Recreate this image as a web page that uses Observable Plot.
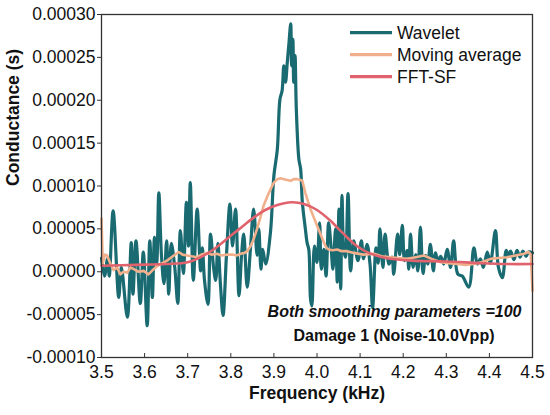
<!DOCTYPE html>
<html>
<head>
<meta charset="utf-8">
<script src="https://cdn.jsdelivr.net/npm/d3@7"></script>
<script src="https://cdn.jsdelivr.net/npm/@observablehq/plot@0.6"></script>
<style>
  html, body { margin: 0; padding: 0; background: #fff; }
  #chart { width: 550px; height: 415px; }
</style>
</head>
<body>
<div id="chart"></div>
<script>
// ---- data ----
const xTicks = [3.5, 3.6, 3.7, 3.8, 3.9, 4.0, 4.1, 4.2, 4.3, 4.4, 4.5];
const yTicks = [-0.0001, -0.00005, 0, 0.00005, 0.0001, 0.00015, 0.0002, 0.00025, 0.0003];
const seriesNames = ["Wavelet", "Moving average", "FFT-SF"];
const seriesColors = ["#1a6a72", "#f1b08b", "#e0626d"];

const waveletFreq = [3.500,3.507,3.514,3.518,3.527,3.540,3.546,3.560,3.569,3.573,3.580,3.590,3.597,3.606,3.612,3.618,3.623,3.628,3.633,3.639,3.645,3.651,3.656,3.662,3.670,3.677,3.683,3.690,3.697,3.702,3.706,3.713,3.722,3.730,3.734,3.739,3.747,3.753,3.760,3.765,3.770,3.776,3.782,3.790,3.798,3.804,3.811,3.819,3.825,3.830,3.838,3.846,3.853,3.861,3.865,3.870,3.874,3.881,3.892,3.900,3.908,3.914,3.919,3.923,3.927,3.931,3.935,3.939,3.941,3.944,3.946,3.949,3.952,3.958,3.962,3.966,3.973,3.977,3.981,3.985,3.988,3.994,4.000,4.006,4.010,4.016,4.021,4.027,4.033,4.037,4.043,4.047,4.051,4.055,4.058,4.062,4.066,4.072,4.078,4.085,4.095,4.103,4.108,4.116,4.123,4.129,4.137,4.142,4.146,4.153,4.158,4.167,4.174,4.178,4.187,4.192,4.198,4.203,4.209,4.213,4.217,4.223,4.229,4.234,4.240,4.246,4.252,4.257,4.263,4.270,4.275,4.280,4.287,4.294,4.302,4.310,4.317,4.327,4.337,4.352,4.364,4.372,4.379,4.386,4.395,4.402,4.414,4.421,4.430,4.439,4.444,4.449,4.457,4.464,4.471,4.478,4.485,4.491,4.500];
const waveletVal = [1.6e-5,-0.5e-5,1.5e-5,-0.5e-5,7.1e-5,-3.0e-5,0.5e-5,-5.3e-5,3.4e-5,-2.6e-5,3.6e-5,-3.7e-5,2.3e-5,-6.3e-5,3.6e-5,-3.0e-5,4.0e-5,1.0e-5,9.2e-5,2.0e-5,-1.4e-5,3.6e-5,-2.6e-5,3.3e-5,0.5e-5,-3.7e-5,4.8e-5,-0.2e-5,8.1e-5,3.0e-5,10.4e-5,-1.0e-5,7.3e-5,0.1e-5,2.8e-5,-1.0e-5,-3.8e-5,4.4e-5,0.5e-5,-1.0e-5,3.3e-5,-1.5e-5,-5.1e-5,2.0e-5,7.9e-5,3.0e-5,7.3e-5,-2.8e-5,2.0e-5,4.4e-5,-1.8e-5,3.0e-5,7.3e-5,1.9e-5,5.0e-5,0.3e-5,2.6e-5,0.9e-5,4.6e-5,11.2e-5,14.3e-5,20.1e-5,21.1e-5,24.0e-5,22.1e-5,24.4e-5,26.7e-5,28.9e-5,24.0e-5,27.1e-5,22.1e-5,25.2e-5,19.0e-5,13.1e-5,12.0e-5,8.1e-5,5.0e-5,3.4e-5,2.6e-5,-3.2e-5,-4.0e-5,3.0e-5,1.1e-5,5.7e-5,0.3e-5,2.6e-5,-0.5e-5,5.7e-5,2.6e-5,0.3e-5,5.0e-5,-1.2e-5,7.3e-5,-2.0e-5,8.9e-5,2.6e-5,1.7e-5,9.1e-5,0.1e-5,3.6e-5,1.3e-5,3.6e-5,1.5e-5,3.2e-5,0.9e-5,-4.2e-5,2.8e-5,1.0e-5,5.0e-5,0.5e-5,4.4e-5,0.9e-5,1.7e-5,-0.3e-5,4.4e-5,2.0e-5,5.4e-5,1.3e-5,2.5e-5,0.3e-5,4.4e-5,0.5e-5,2.0e-5,0.1e-5,5.2e-5,-0.2e-5,1.9e-5,0.9e-5,3.2e-5,0.1e-5,2.2e-5,1.3e-5,1.8e-5,0.9e-5,2.6e-5,0.5e-5,3.6e-5,-0.3e-5,-0.5e-5,-1.8e-5,2.8e-5,0.9e-5,1.5e-5,0.5e-5,2.3e-5,1.0e-5,4.8e-5,0.5e-5,-0.7e-5,2.5e-5,1.8e-5,2.4e-5,1.4e-5,2.5e-5,1.7e-5,2.4e-5,1.8e-5,2.3e-5,2.2e-5];

const movingFreq = [3.500,3.503,3.508,3.513,3.521,3.528,3.536,3.544,3.551,3.560,3.567,3.575,3.586,3.598,3.609,3.621,3.630,3.637,3.652,3.660,3.668,3.679,3.688,3.699,3.709,3.722,3.732,3.745,3.755,3.768,3.778,3.792,3.804,3.813,3.823,3.832,3.838,3.846,3.853,3.861,3.869,3.876,3.884,3.892,3.900,3.908,3.915,3.923,3.931,3.939,3.946,3.954,3.962,3.966,3.969,3.973,3.979,3.985,3.992,4.000,4.008,4.016,4.022,4.027,4.036,4.047,4.057,4.070,4.085,4.108,4.132,4.150,4.171,4.188,4.209,4.229,4.248,4.266,4.287,4.305,4.325,4.345,4.364,4.382,4.403,4.421,4.441,4.461,4.480,4.491,4.496,4.500];
const movingVal = [6.2e-5,1.0e-5,2.0e-5,1.9e-5,0.9e-5,0.2e-5,0.5e-5,-0.3e-5,0.0,-0.1e-5,0.5e-5,0.3e-5,0.0,0.1e-5,-0.3e-5,0.3e-5,0.7e-5,0.9e-5,1.3e-5,1.6e-5,1.9e-5,2.3e-5,2.0e-5,1.9e-5,1.8e-5,1.7e-5,2.0e-5,2.2e-5,2.0e-5,2.1e-5,1.9e-5,2.0e-5,2.0e-5,1.9e-5,2.1e-5,2.2e-5,2.4e-5,3.0e-5,3.8e-5,5.0e-5,6.4e-5,7.7e-5,8.7e-5,9.6e-5,10.4e-5,10.8e-5,10.9e-5,10.8e-5,10.7e-5,10.6e-5,10.8e-5,10.8e-5,10.7e-5,10.6e-5,10.0e-5,9.2e-5,8.2e-5,7.3e-5,6.4e-5,5.4e-5,4.4e-5,3.4e-5,2.8e-5,2.6e-5,2.5e-5,2.6e-5,2.4e-5,2.4e-5,2.2e-5,2.0e-5,2.1e-5,1.8e-5,1.7e-5,1.6e-5,1.5e-5,1.7e-5,1.9e-5,1.5e-5,1.1e-5,1.0e-5,0.9e-5,0.8e-5,0.9e-5,1.1e-5,1.5e-5,1.6e-5,1.7e-5,1.9e-5,2.1e-5,2.3e-5,2.0e-5,-2.2e-5];

const fftFreq = [3.50,3.58,3.65,3.70,3.73,3.76,3.79,3.82,3.85,3.88,3.91,3.94,3.97,4.00,4.03,4.06,4.09,4.12,4.16,4.22,4.30,4.38,4.44,4.50];
const fftVal = [0.7e-5,0.8e-5,0.9e-5,1.1e-5,1.7e-5,2.6e-5,3.8e-5,5.0e-5,6.2e-5,7.2e-5,7.8e-5,8.1e-5,7.9e-5,7.2e-5,6.0e-5,4.5e-5,3.1e-5,2.2e-5,1.6e-5,1.3e-5,1.2e-5,1.0e-5,0.9e-5,0.9e-5];

const xLabel = "Frequency (kHz)";
const yLabel = "Conductance (s)";
const note1 = "Both smoothing parameters =100";
const note2 = "Damage 1 (Noise-10.0Vpp)";

// ---- build tables ----
const wavelet = waveletFreq.map((f, i) => ({f, v: waveletVal[i]}));
const moving = movingFreq.map((f, i) => ({f, v: movingVal[i]}));
const fft = fftFreq.map((f, i) => ({f, v: fftVal[i]}));

const FONT = "'Liberation Sans', Arial, Helvetica, sans-serif";

const svg = Plot.plot({
  width: 550,
  height: 415,
  marginLeft: 101,
  marginRight: 18,
  marginTop: 14,
  marginBottom: 58,
  style: {fontFamily: FONT, fontSize: "17.5px", color: "#111", background: "#fff", overflow: "visible"},
  x: {domain: [3.5, 4.5]},
  y: {domain: [-0.0001, 0.0003]},
  marks: [
    Plot.line(wavelet, {x: "f", y: "v", stroke: seriesColors[0], strokeWidth: 3.2, curve: "catmull-rom", strokeLinejoin: "round"}),
    Plot.line(moving, {x: "f", y: "v", stroke: seriesColors[1], strokeWidth: 2.6, curve: "linear", strokeLinejoin: "round"}),
    Plot.line(fft, {x: "f", y: "v", stroke: seriesColors[2], strokeWidth: 2.6, curve: "catmull-rom"}),
    Plot.frame({stroke: "#333", strokeWidth: 1.3}),
    Plot.axisY({ticks: yTicks, tickFormat: d => d.toFixed(5), tickSize: 4, tickPadding: 2, label: null, fontSize: 17.5, stroke: "#333"}),
    Plot.axisX({ticks: xTicks, tickFormat: d => d.toFixed(1), tickSize: 0, tickPadding: 8, label: null, fontSize: 17.5}),
    Plot.tickX(xTicks, {x: d => d, insetTop: 339, stroke: "#333", strokeWidth: 1}),
    Plot.text([xLabel], {frameAnchor: "bottom", dy: 41, text: d => d, fontWeight: "bold", fontSize: 17.5}),
    Plot.text([yLabel], {frameAnchor: "left", dx: -88, rotate: -90, text: d => d, fontWeight: "bold", fontSize: 17.5}),
    Plot.text([note1], {frameAnchor: "bottom", dx: 77.5, dy: -41, text: d => d, fontWeight: "bold", fontStyle: "italic", fontSize: 16}),
    Plot.text([note2], {frameAnchor: "bottom", dx: 77, dy: -17, text: d => d, fontWeight: "bold", fontSize: 16})
  ]
});

// legend drawn inside the plot area
const g = d3.select(svg).append("g").attr("font-family", FONT).attr("font-size", 17.5).attr("text-anchor", "start");
seriesNames.forEach((name, i) => {
  const y = 32.7 + i * 22;
  g.append("line").attr("x1", 350).attr("x2", 392).attr("y1", y).attr("y2", y)
    .attr("stroke", seriesColors[i]).attr("stroke-width", 3.2);
  g.append("text").attr("x", 397).attr("y", y).attr("dy", "0.35em").attr("fill", "#111")
    .attr("text-anchor", "start").text(name);
});

document.getElementById("chart").appendChild(svg);
</script>
</body>
</html>
